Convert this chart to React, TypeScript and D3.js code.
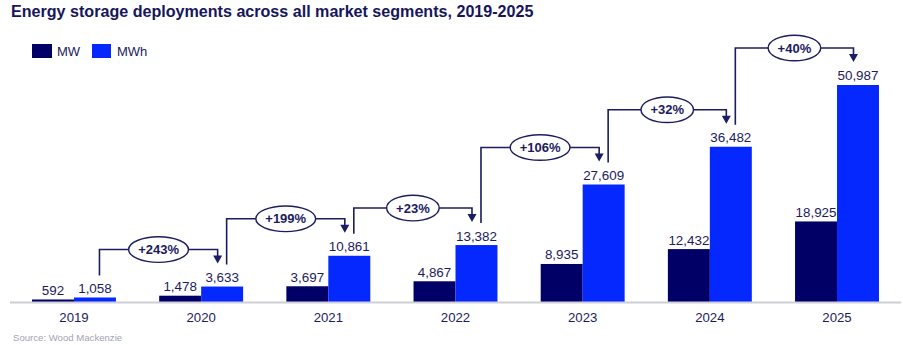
import React from "react";
import * as d3 from "d3";

const years = ["2019", "2020", "2021", "2022", "2023", "2024", "2025"];
const mwValues = [592, 1478, 3697, 4867, 8935, 12432, 18925];
const mwhValues = [1058, 3633, 10861, 13382, 27609, 36482, 50987];
const growthLabels = ["+243%", "+199%", "+23%", "+106%", "+32%", "+40%"];
const seriesNames = ["MW", "MWh"];

const W = 903;
const H = 345;
const FONT = "'Liberation Sans', Arial, sans-serif";
const NAVY_TEXT = "#1b1b5e";
const MW_COLOR = "#000066";
const MWH_COLOR = "#0528ff";
const BASE = 302;

export default function App() {
  const x = d3.scaleBand<string>().domain(years).range([10.4, 900.6]).paddingInner(0.34).paddingOuter(0.17);
  const xs = d3.scaleBand<string>().domain(seriesNames).range([0, x.bandwidth()]).padding(0);
  const y = d3.scaleLinear().domain([0, 60000]).range([BASE, BASE - 60000 * 0.004256]);
  const fmt = d3.format(",");

  const mwhCenter = (i: number) => (x(years[i]) as number) + (xs("MWh") as number) + xs.bandwidth() / 2;

  const textW = (s: string) => {
    let w = 0;
    for (const c of s) w += c === "%" ? 11.6 : 7.3;
    return w;
  };

  return (
    <div style={{ position: "absolute", left: 0, top: 0 }}>
      <svg width={W} height={H} style={{ display: "block", fontFamily: FONT }}>
        <rect width={W} height={H} fill="#fff" />
        <text x={11} y={17.3} fontSize={16.1} fontWeight="bold" fill="#16165c">
          Energy storage deployments across all market segments, 2019-2025
        </text>
        {/* legend */}
        <rect x={32} y={44} width={20} height={14} fill={MW_COLOR} />
        <text x={57} y={56} fontSize={13} fill={NAVY_TEXT}>MW</text>
        <rect x={92} y={44} width={19} height={14} fill={MWH_COLOR} />
        <text x={117} y={56} fontSize={13} fill={NAVY_TEXT}>MWh</text>

        {/* bars */}
        {years.map((yr, i) => {
          const x0 = x(yr) as number;
          const vals = [mwValues[i], mwhValues[i]];
          return (
            <g key={yr}>
              {seriesNames.map((s, j) => {
                const bx = x0 + (xs(s) as number);
                const top = y(vals[j]);
                return (
                  <g key={s}>
                    <rect x={bx} y={top} width={xs.bandwidth()} height={BASE - top} fill={j === 0 ? MW_COLOR : MWH_COLOR} />
                    <text x={bx + xs.bandwidth() / 2} y={top - 4.5} fontSize={13.4} fill={NAVY_TEXT} textAnchor="middle">
                      {fmt(vals[j])}
                    </text>
                  </g>
                );
              })}
              <text x={x0 + x.bandwidth() / 2} y={321.5} fontSize={13.2} fill={NAVY_TEXT} textAnchor="middle">
                {yr}
              </text>
            </g>
          );
        })}

        {/* axis line */}
        <line x1={10} x2={901} y1={BASE + 0.5} y2={BASE + 0.5} stroke="#cfcfd6" strokeWidth={2} />

        {/* growth annotations */}
        {growthLabels.map((lab, i) => {
          const x1 = mwhCenter(i) + 4.5;
          const x2 = mwhCenter(i + 1) - 4.5;
          const yStart = y(mwhValues[i]) - 22;
          const nextTop = y(mwhValues[i + 1]);
          const yH = nextTop - 37;
          const yTip = nextTop - 23;
          const cx = (x1 + x2) / 2;
          const rx = textW(lab) / 2 + 9.5;
          return (
            <g key={lab}>
              <path
                d={`M${x1},${yStart}V${yH}H${x2}V${yTip - 7}`}
                fill="none"
                stroke="#1c1c62"
                strokeWidth={1.6}
              />
              <path d={`M${x2 - 4.5},${yTip - 8}L${x2 + 4.5},${yTip - 8}L${x2},${yTip}Z`} fill="#1c1c62" />
              <ellipse cx={cx} cy={yH} rx={rx} ry={12.8} fill="#fff" stroke="#1c1c62" strokeWidth={1.4} />
              <text x={cx} y={yH + 4.6} fontSize={13} fontWeight="bold" fill={NAVY_TEXT} textAnchor="middle">
                {lab}
              </text>
            </g>
          );
        })}

        <text x={13} y={341} fontSize={9.6} fill="#a3a3b3">
          Source: Wood Mackenzie
        </text>
      </svg>
    </div>
  );
}
